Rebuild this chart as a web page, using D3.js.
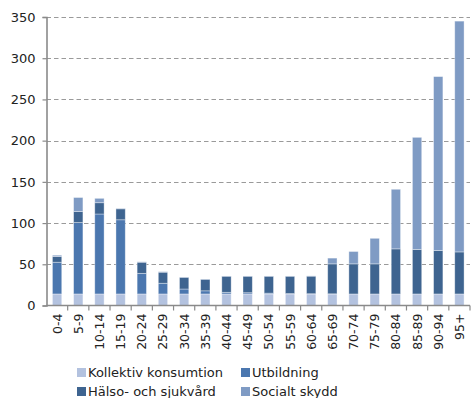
<!DOCTYPE html>
<html>
<head>
<meta charset="utf-8">
<script src="https://cdn.jsdelivr.net/npm/d3@7"></script>
<style>
  html, body { margin: 0; padding: 0; background: #fff; }
  svg { display: block; font-family: "DejaVu Sans", Verdana, sans-serif; }
</style>
</head>
<body>
<svg id="chart" width="471" height="398"></svg>
<script>
// Age groups along the x axis
const ageGroups = ["0-4","5-9","10-14","15-19","20-24","25-29","30-34","35-39","40-44","45-49",
                   "50-54","55-59","60-64","65-69","70-74","75-79","80-84","85-89","90-94","95+"];

// Stacked components per age group (thousand kronor per person)
const kollektiv = [14,14,14,14,14,14,14,14,14,14,14,14,14,14,14,14,14,14,14,14];
const utbildning = [38.5,86.6,97,90,25,13,6,3.8,2,1.5,1,0.5,0.3,0.2,0,0,0,0,0,0];
const halso = [7,13.4,13.7,13.3,13.5,13.4,14.2,14,19.5,20,20.5,21,21.3,36.3,36.5,36.5,54.7,54,52.7,51];
const socialt = [1.5,17,5.3,0.5,0.5,0.6,0.3,0.3,0.3,0.3,0.3,0.3,0.3,7,15,31,72.3,136,211,280];

const yTicks = [0,50,100,150,200,250,300,350];

const seriesNames = ["Kollektiv konsumtion","Utbildning","Hälso- och sjukvård","Socialt skydd"];
const seriesColors = ["#b3c2df","#4b77af","#3e6490","#7f9bc4"];

const rows = ageGroups.map((g, i) => ({
  group: g,
  "Kollektiv konsumtion": kollektiv[i],
  "Utbildning": utbildning[i],
  "Hälso- och sjukvård": halso[i],
  "Socialt skydd": socialt[i]
}));

const svg = d3.select("#chart");
const margin = { left: 46.5, right: 1, top: 17, bottom: 93 };
const W = 471, H = 398;

const x = d3.scaleBand()
  .domain(ageGroups)
  .range([margin.left, W - margin.right])
  .paddingInner(0.56)
  .paddingOuter(0.28);

const y = d3.scaleLinear()
  .domain([0, 350])
  .range([H - margin.bottom + 0.5, margin.top]);

// Dashed horizontal grid
svg.append("g")
  .selectAll("line")
  .data(yTicks.filter(t => t > 0))
  .join("line")
  .attr("x1", margin.left)
  .attr("x2", W - margin.right)
  .attr("y1", d => Math.round(y(d)) + 0.5)
  .attr("y2", d => Math.round(y(d)) + 0.5)
  .attr("stroke", "#9a9a9a")
  .attr("stroke-width", 1.2)
  .attr("stroke-dasharray", "4.5,3");

// Stacked bars
const stack = d3.stack().keys(seriesNames);
const layers = stack(rows);

svg.append("g")
  .selectAll("g")
  .data(layers)
  .join("g")
  .attr("fill", (d, i) => seriesColors[i])
  .selectAll("rect")
  .data(d => d)
  .join("rect")
  .attr("x", d => x(d.data.group))
  .attr("width", x.bandwidth())
  .attr("y", d => y(d[1]))
  .attr("height", d => Math.max(0, y(d[0]) - y(d[1])))
  .attr("stroke", "rgba(255,255,255,0.45)")
  .attr("stroke-width", 0.8);

// Y axis
const yAxis = d3.axisLeft(y)
  .tickValues(yTicks)
  .tickSize(4)
  .tickPadding(7);

const gy = svg.append("g")
  .attr("transform", `translate(${margin.left},0)`)
  .call(yAxis);
gy.select(".domain").attr("stroke", "#8a8a8a").attr("stroke-width", 1.6);
gy.selectAll(".tick line").attr("stroke", "#8a8a8a").attr("stroke-width", 1.2);
gy.selectAll(".tick text")
  .attr("fill", "#222")
  .style("font-size", "13px")
  .style("font-family", "'DejaVu Sans', Verdana, sans-serif");

// X axis
const x0 = y(0);
const gx = svg.append("g")
  .attr("transform", `translate(0,${x0})`);
gx.append("line")
  .attr("x1", margin.left)
  .attr("x2", W - margin.right)
  .attr("stroke", "#8a8a8a")
  .attr("stroke-width", 1.6);

// Tick marks between groups
const step = x.step();
const boundaries = ageGroups.map((g, i) => margin.left + step * (i + 1));
gx.selectAll("line.sep")
  .data(boundaries)
  .join("line")
  .attr("class", "sep")
  .attr("x1", d => d)
  .attr("x2", d => d)
  .attr("y1", 0)
  .attr("y2", 5)
  .attr("stroke", "#8a8a8a")
  .attr("stroke-width", 1.2);

// Rotated category labels
gx.selectAll("text")
  .data(ageGroups)
  .join("text")
  .attr("transform", d => `translate(${x(d) + x.bandwidth() / 2 + 4.5},8) rotate(-90)`)
  .attr("text-anchor", "end")
  .attr("fill", "#222")
  .style("font-size", "12.5px")
  .text(d => d);

// Legend
const legendPos = [
  { x: 77, y: 368 },
  { x: 241, y: 368 },
  { x: 77, y: 387 },
  { x: 241, y: 387 }
];
const legend = svg.append("g")
  .selectAll("g")
  .data(seriesNames)
  .join("g")
  .attr("transform", (d, i) => `translate(${legendPos[i].x},${legendPos[i].y})`);
legend.append("rect")
  .attr("width", 9)
  .attr("height", 9)
  .attr("fill", (d, i) => seriesColors[i]);
legend.append("text")
  .attr("x", 11)
  .attr("y", 9)
  .attr("fill", "#222")
  .style("font-size", "13px")
  .text(d => d);
</script>
</body>
</html>
